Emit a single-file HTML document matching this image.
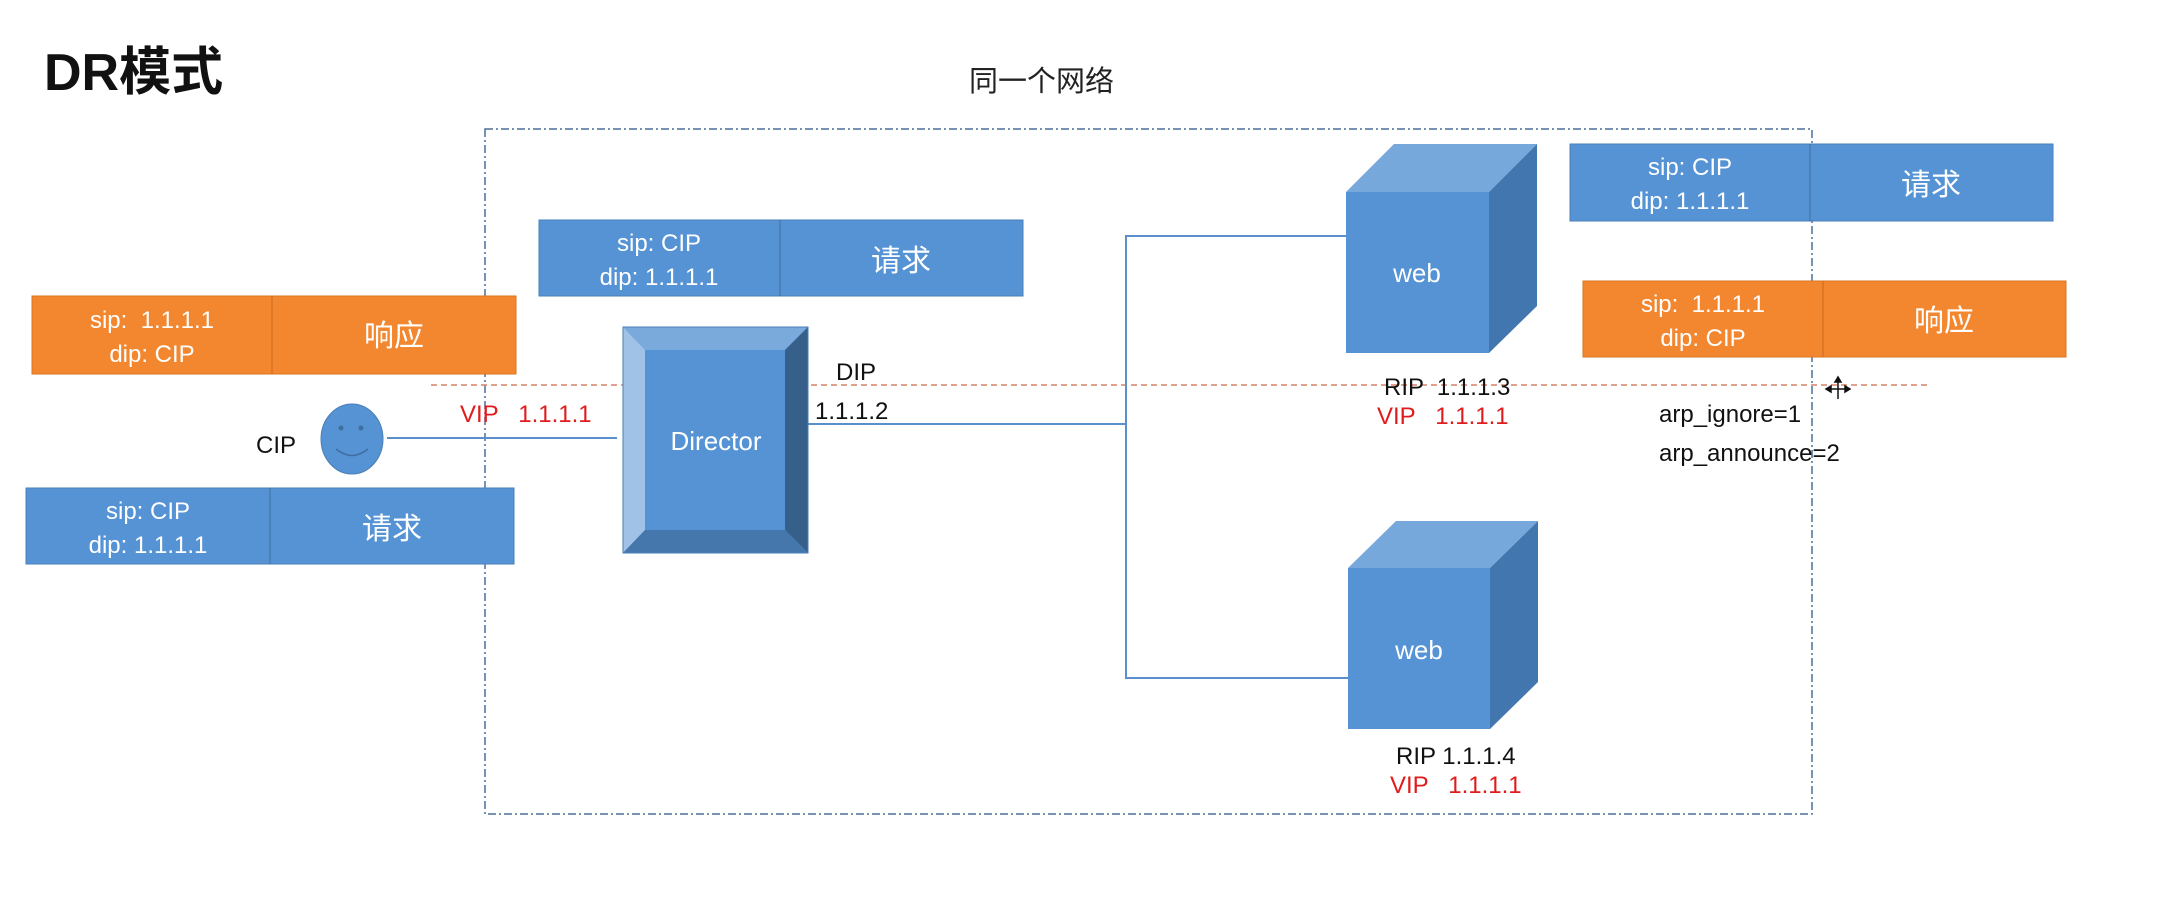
<!DOCTYPE html>
<html><head><meta charset="utf-8"><style>
html,body{margin:0;padding:0;background:#fff;}
svg{display:block;}
text{font-family:"Liberation Sans","Noto Sans CJK SC",sans-serif;white-space:pre;}
</style></head><body>
<svg width="2173" height="901" viewBox="0 0 2173 901" xmlns="http://www.w3.org/2000/svg" xml:space="preserve">
<text x="44" y="90" font-size="52" font-weight="bold" fill="#111">DR模式</text>
<text x="969" y="91" font-size="29" fill="#222">同一个网络</text>
<rect x="485" y="129" width="1327" height="685" fill="none" stroke="#4a6f9a" stroke-width="1.5" stroke-dasharray="8,3,2,3"/>
<line x1="431" y1="385" x2="1928" y2="385" stroke="#d9806a" stroke-width="1.5" stroke-dasharray="6,4"/>
<g stroke="#5b8fcb" stroke-width="2" fill="none">
<line x1="387" y1="438" x2="617" y2="438"/>
<line x1="808" y1="424" x2="1126" y2="424"/>
<polyline points="1348,236 1126,236 1126,678 1348,678"/>
</g>
<g>
<rect x="539" y="220" width="484" height="76" fill="#5593d4" stroke="#4a7fb8"/>
<line x1="780" y1="220" x2="780" y2="296" stroke="#3f6fa0"/>
<text x="659" y="251" font-size="24" fill="#fff" text-anchor="middle">sip: CIP</text>
<text x="659" y="285" font-size="24" fill="#fff" text-anchor="middle">dip: 1.1.1.1</text>
<text x="901" y="271" font-size="30" fill="#fff" text-anchor="middle">请求</text>
</g>
<g>
<rect x="32" y="296" width="484" height="78" fill="#f3872f" stroke="#d9741f"/>
<line x1="272" y1="296" x2="272" y2="374" stroke="#c86a1c"/>
<text x="152" y="328" font-size="24" fill="#fff" text-anchor="middle">sip:  1.1.1.1</text>
<text x="152" y="362" font-size="24" fill="#fff" text-anchor="middle">dip: CIP</text>
<text x="394" y="346" font-size="30" fill="#fff" text-anchor="middle">响应</text>
</g>
<g>
<rect x="26" y="488" width="488" height="76" fill="#5593d4" stroke="#4a7fb8"/>
<line x1="270" y1="488" x2="270" y2="564" stroke="#3f6fa0"/>
<text x="148" y="519" font-size="24" fill="#fff" text-anchor="middle">sip: CIP</text>
<text x="148" y="553" font-size="24" fill="#fff" text-anchor="middle">dip: 1.1.1.1</text>
<text x="392" y="539" font-size="30" fill="#fff" text-anchor="middle">请求</text>
</g>
<ellipse cx="352" cy="439" rx="31" ry="35" fill="#5593d4" stroke="#4a7fb8"/>
<circle cx="341" cy="428" r="2.5" fill="#3e6fa0"/>
<circle cx="361" cy="428" r="2.5" fill="#3e6fa0"/>
<path d="M336,449 Q352,462 368,449" stroke="#3e6fa0" stroke-width="1.5" fill="none"/>
<text x="256" y="453" font-size="24" fill="#111">CIP</text>
<text x="460" y="422" font-size="24" fill="#e01b1b">VIP   1.1.1.1</text>
<g>
<rect x="623" y="327" width="185" height="226" fill="#5593d4"/>
<polygon points="623,327 808,327 785,350 645,350" fill="#7aa9dc"/>
<polygon points="623,327 645,350 645,530 623,553" fill="#a0c2e6"/>
<polygon points="808,327 808,553 785,530 785,350" fill="#365f8a"/>
<polygon points="623,553 808,553 785,530 645,530" fill="#4577ad"/>
<rect x="623" y="327" width="185" height="226" fill="none" stroke="#4a7fb8"/>
<text x="716" y="450" font-size="26" fill="#fff" text-anchor="middle">Director</text>
</g>
<text x="836" y="380" font-size="24" fill="#111">DIP</text>
<text x="815" y="419" font-size="24" fill="#111">1.1.1.2</text>
<g>
<polygon points="1346,192 1394,144 1537,144 1489,192" fill="#76a8dc"/>
<polygon points="1489,192 1537,144 1537,306 1489,353" fill="#4177ae"/>
<rect x="1346" y="192" width="143" height="161" fill="#5593d4"/>
<text x="1417" y="282" font-size="26" fill="#fff" text-anchor="middle">web</text>
</g>
<text x="1384" y="395" font-size="24" fill="#111">RIP  1.1.1.3</text>
<text x="1377" y="424" font-size="24" fill="#e01b1b">VIP   1.1.1.1</text>
<g>
<polygon points="1348,568 1396,521 1538,521 1490,568" fill="#76a8dc"/>
<polygon points="1490,568 1538,521 1538,682 1490,729" fill="#4177ae"/>
<rect x="1348" y="568" width="142" height="161" fill="#5593d4"/>
<text x="1419" y="659" font-size="26" fill="#fff" text-anchor="middle">web</text>
</g>
<text x="1396" y="764" font-size="24" fill="#111">RIP 1.1.1.4</text>
<text x="1390" y="793" font-size="24" fill="#e01b1b">VIP   1.1.1.1</text>
<g>
<rect x="1570" y="144" width="483" height="77" fill="#5593d4" stroke="#4a7fb8"/>
<line x1="1810" y1="144" x2="1810" y2="221" stroke="#3f6fa0"/>
<text x="1690" y="175" font-size="24" fill="#fff" text-anchor="middle">sip: CIP</text>
<text x="1690" y="209" font-size="24" fill="#fff" text-anchor="middle">dip: 1.1.1.1</text>
<text x="1931" y="195" font-size="30" fill="#fff" text-anchor="middle">请求</text>
</g>
<g>
<rect x="1583" y="281" width="483" height="76" fill="#f3872f" stroke="#d9741f"/>
<line x1="1823" y1="281" x2="1823" y2="357" stroke="#c86a1c"/>
<text x="1703" y="312" font-size="24" fill="#fff" text-anchor="middle">sip:  1.1.1.1</text>
<text x="1703" y="346" font-size="24" fill="#fff" text-anchor="middle">dip: CIP</text>
<text x="1944" y="331" font-size="30" fill="#fff" text-anchor="middle">响应</text>
</g>
<text x="1659" y="422" font-size="24" fill="#111">arp_ignore=1</text>
<text x="1659" y="461" font-size="24" fill="#111">arp_announce=2</text>
<g stroke="#111" stroke-width="1.5" fill="#111">
<line x1="1828" y1="389" x2="1848" y2="389"/>
<line x1="1838" y1="379" x2="1838" y2="399"/>
<polygon points="1838,377 1835,382 1841,382"/>
<polygon points="1826,389 1831,386 1831,392"/>
<polygon points="1850,389 1845,386 1845,392"/>
</g>
</svg>
</body></html>
